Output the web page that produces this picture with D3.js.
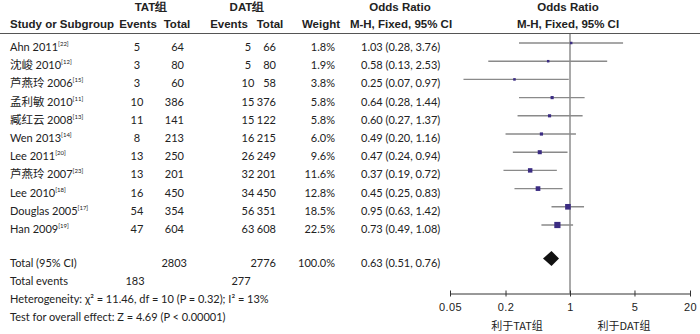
<!DOCTYPE html>
<html>
<head>
<meta charset="utf-8">
<script src="https://cdn.jsdelivr.net/npm/d3@7"></script>
<style>
  body { margin: 0; background: #fff; }
  svg text { fill: #222; }
  .hd { font-family: "Liberation Sans Narrow", "Arial Narrow", sans-serif; font-weight: bold; font-size: 11.5px; }
  .bd { font-family: Lato, "Liberation Sans", sans-serif; font-size: 11px; }
  .cjk { font-family: "Noto Sans CJK SC", sans-serif; }
</style>
</head>
<body>
<script>
const studies = ["Ahn 2011", "沈峻 2010", "芦燕玲 2006", "孟利敏 2010", "臧红云 2008", "Wen 2013",
  "Lee 2011", "芦燕玲 2007", "Lee 2010", "Douglas 2005", "Han 2009"];
const refs = ["22", "12", "15", "11", "13", "14", "20", "23", "18", "17", "19"];
const tatEvents = [5, 3, 3, 10, 11, 8, 13, 13, 16, 54, 47];
const tatTotal = [64, 80, 60, 386, 141, 213, 250, 201, 450, 354, 604];
const datEvents = [5, 5, 10, 15, 15, 16, 26, 32, 34, 56, 63];
const datTotal = [66, 80, 58, 376, 122, 215, 249, 201, 450, 351, 608];
const weights = [1.8, 1.9, 3.8, 5.8, 5.8, 6.0, 9.6, 11.6, 12.8, 18.5, 22.5];
const oddsRatio = [1.03, 0.58, 0.25, 0.64, 0.60, 0.49, 0.47, 0.37, 0.45, 0.95, 0.73];
const ciLow = [0.28, 0.13, 0.07, 0.28, 0.27, 0.20, 0.24, 0.19, 0.25, 0.63, 0.49];
const ciHigh = [3.76, 2.53, 0.97, 1.44, 1.37, 1.16, 0.94, 0.72, 0.83, 1.42, 1.08];
const pooled = { or: 0.63, lo: 0.51, hi: 0.76, tatTotal: 2803, datTotal: 2776, tatEvents: 183, datEvents: 277 };
const axisTicks = [0.05, 0.2, 1, 5, 20];

const width = 700, height = 334;

const svg = d3.select("body").append("svg")
  .attr("width", width)
  .attr("height", height);

const x = d3.scaleLog().domain([0.05, 20]).range([450, 690]);
const y = d3.scaleLinear().domain([0, 10]).range([47, 229]);
const boxSize = d3.scaleSqrt().domain([0, 22.5]).range([0, 6.2]);

const fmt2 = d3.format(".2f");
const fmtW = d => d3.format(".1f")(d) + "%";
const isCjk = s => /[\u4e00-\u9fff]/.test(s);

// headers
const head = svg.append("g").attr("class", "hd");
[["TAT组", 151, 11], ["DAT组", 247, 11], ["Odds Ratio", 400, 11], ["Odds Ratio", 568, 11],
 ["Events", 138, 28], ["Total", 177, 28], ["Events", 229, 28], ["Total", 270, 28],
 ["Weight", 321, 28], ["M-H, Fixed, 95% CI", 401, 28], ["M-H, Fixed, 95% CI", 568, 28]]
  .forEach(([t, cx, cy]) => head.append("text").attr("x", cx).attr("y", cy)
    .attr("text-anchor", "middle").text(t));
head.append("text").attr("x", 10).attr("y", 28).text("Study or Subgroup");

svg.append("line").attr("x1", 0).attr("x2", 700).attr("y1", 33.5).attr("y2", 33.5)
  .attr("stroke", "#555").attr("stroke-width", 1.2);

// study rows
const rows = svg.append("g").attr("class", "bd")
  .selectAll("g").data(studies).join("g")
  .attr("transform", (d, i) => `translate(0,${y(i) + 4})`);

const name = rows.append("text").attr("x", 10);
name.each(function (d) {
  const t = d3.select(this);
  const parts = d.split(" ");
  t.append("tspan").attr("class", isCjk(parts[0]) ? "cjk" : null)
    .attr("font-size", isCjk(parts[0]) ? 11.5 : null).text(parts[0] + " ");
  t.append("tspan").text(parts[1]);
});
name.append("tspan").attr("dy", -5).attr("font-size", 6).text((d, i) => `[${refs[i]}]`);

rows.append("text").attr("x", 137).attr("text-anchor", "middle").text((d, i) => tatEvents[i]);
rows.append("text").attr("x", 184).attr("text-anchor", "end").text((d, i) => tatTotal[i]);
rows.append("text").attr("x", 248).attr("text-anchor", "middle").text((d, i) => datEvents[i]);
rows.append("text").attr("x", 276).attr("text-anchor", "end").text((d, i) => datTotal[i]);
rows.append("text").attr("x", 335).attr("text-anchor", "end").text((d, i) => fmtW(weights[i]));
rows.append("text").attr("x", 361)
  .text((d, i) => `${fmt2(oddsRatio[i])} (${fmt2(ciLow[i])}, ${fmt2(ciHigh[i])})`);

// total rows
const tot = svg.append("g").attr("class", "bd");
const yTot = 267;
tot.append("text").attr("x", 10).attr("y", yTot).text("Total (95% CI)");
tot.append("text").attr("x", 187).attr("y", yTot).attr("text-anchor", "end").text(pooled.tatTotal);
tot.append("text").attr("x", 276).attr("y", yTot).attr("text-anchor", "end").text(pooled.datTotal);
tot.append("text").attr("x", 335).attr("y", yTot).attr("text-anchor", "end").text(fmtW(100));
tot.append("text").attr("x", 361).attr("y", yTot)
  .text(`${fmt2(pooled.or)} (${fmt2(pooled.lo)}, ${fmt2(pooled.hi)})`);
tot.append("text").attr("x", 10).attr("y", 285).text("Total events");
tot.append("text").attr("x", 135).attr("y", 285).attr("text-anchor", "middle").text(pooled.tatEvents);
tot.append("text").attr("x", 241).attr("y", 285).attr("text-anchor", "middle").text(pooled.datEvents);
tot.append("text").attr("x", 10).attr("y", 303)
  .text("Heterogeneity: χ² = 11.46, df = 10 (P = 0.32); I² = 13%");
tot.append("text").attr("x", 10).attr("y", 321)
  .text("Test for overall effect: Z = 4.69 (P < 0.00001)");

// forest plot
const plot = svg.append("g");
const axisY = 293.5;

plot.append("line").attr("x1", x(1)).attr("x2", x(1)).attr("y1", 34).attr("y2", axisY)
  .attr("stroke", "#555").attr("stroke-width", 1);

const marks = plot.selectAll("g.st").data(studies).join("g").attr("class", "st");
marks.append("line")
  .attr("x1", (d, i) => x(ciLow[i])).attr("x2", (d, i) => x(ciHigh[i]))
  .attr("y1", (d, i) => y(i) - 4).attr("y2", (d, i) => y(i) - 4)
  .attr("stroke", "#8a8a8a").attr("stroke-width", 1.4);
marks.append("rect")
  .attr("x", (d, i) => x(oddsRatio[i]) - Math.max(2.5, boxSize(weights[i])) / 2)
  .attr("y", (d, i) => y(i) - 4 - Math.max(2.5, boxSize(weights[i])) / 2)
  .attr("width", (d, i) => Math.max(2.5, boxSize(weights[i])))
  .attr("height", (d, i) => Math.max(2.5, boxSize(weights[i])))
  .attr("fill", "#3b2c82");

const dy = 258.5;
plot.append("path")
  .attr("d", `M${x(pooled.lo)},${dy} L${x(pooled.or)},${dy - 7.5} L${x(pooled.hi)},${dy} L${x(pooled.or)},${dy + 7.5} Z`)
  .attr("fill", "#111");

const axis = d3.axisBottom(x).tickValues(axisTicks).tickFormat(d => d).tickSize(3).tickSizeOuter(0);
const ax = plot.append("g").attr("transform", `translate(0,${axisY})`).call(axis);
ax.select(".domain").attr("stroke", "#333");
ax.selectAll(".tick line").attr("stroke", "#333").attr("y1", -3).attr("y2", 3);
ax.selectAll(".tick text")
  .attr("y", 10).attr("dy", "0.71em")
  .attr("font-family", "\"Liberation Sans Narrow\", \"Arial Narrow\", sans-serif")
  .attr("font-size", 11).attr("letter-spacing", 0.4).attr("fill", "#222");

plot.append("text").attr("class", "cjk").attr("x", 517).attr("y", 330)
  .attr("text-anchor", "middle").attr("font-size", 11).text("利于TAT组");
plot.append("text").attr("class", "cjk").attr("x", 624).attr("y", 330)
  .attr("text-anchor", "middle").attr("font-size", 11).text("利于DAT组");
</script>
</body>
</html>
